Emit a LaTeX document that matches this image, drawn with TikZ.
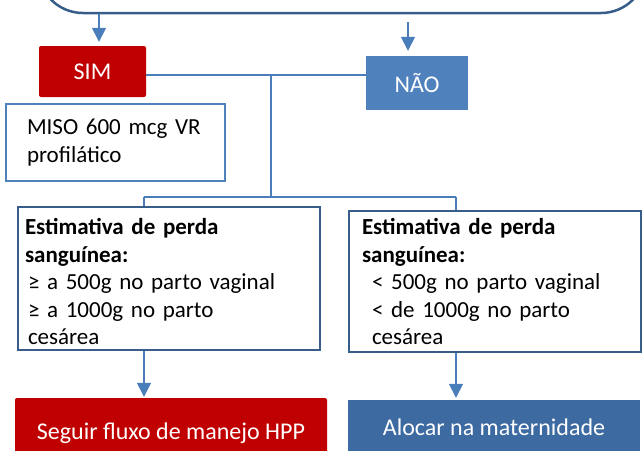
\documentclass[tikz,border=0pt]{standalone}
\usepackage{fontspec}
\setmainfont{Carlito}
\usetikzlibrary{arrows.meta}

\definecolor{simred}{HTML}{C00000}
\definecolor{naoblue}{HTML}{4F81BD}
\definecolor{darkblue}{HTML}{3D6AA1}
\definecolor{boxblue}{HTML}{385D8A}
\definecolor{lineblue}{HTML}{4A7EBB}

\begin{document}
\begin{tikzpicture}[x=1pt,y=-1pt,
    fill_node/.style={text=white,inner sep=0pt,font=\fontsize{24pt}{28pt}\selectfont},
    text_node/.style={draw,fill=white,inner sep=0pt,align=left,font=\fontsize{23pt}{27.5pt}\selectfont},
    conn/.style={draw=lineblue,line width=1.5pt},
    conn_arrow/.style={conn,-{Triangle[width=14pt,length=14pt]},lineblue}]

    \useasboundingbox (0,0) rectangle (644,450);

    % question box, cut by the top of the page
    \node[draw=boxblue,line width=2.5pt,rounded corners=45pt,minimum width=608pt,minimum height=93pt] (topbox) at (342,-33.5) {};

    \node[fill_node,fill=simred,rounded corners=2pt,minimum width=107pt,minimum height=51pt] (sim) at (92.5,71.5) {SIM};
    \node[fill_node,fill=naoblue,minimum width=102pt,minimum height=54pt] (nao) at (417,83) {NÃO};

    \node[text_node,draw=naoblue,line width=1.5pt,minimum width=219pt,minimum height=77pt,text width=205pt] (miso) at (115.5,142.5)
        {\hspace*{14pt}MISO 600 mcg VR\\\hspace*{14pt}profilático};

    \node[text_node,draw=boxblue,line width=2.5pt,minimum width=302pt,minimum height=143pt,text width=288pt] (estsim) at (169,278.5)
        {\rule{0pt}{23pt}\textbf{Estimativa de perda}\\\textbf{sanguínea:}\\
         \hspace*{3pt}≥ a 500g no parto vaginal\\\hspace*{3pt}≥ a 1000g no parto\\\hspace*{3pt}cesárea};
    \node[text_node,draw=boxblue,line width=2.5pt,minimum width=292pt,minimum height=141pt,text width=278pt] (estnao) at (495,281.5)
        {\rule{0pt}{17pt}\hspace*{6pt}\textbf{Estimativa de perda}\\\hspace*{6pt}\textbf{sanguínea:}\\
         \hspace*{16pt}< 500g no parto vaginal\\\hspace*{16pt}< de 1000g no parto\\\hspace*{16pt}cesárea};

    \node[fill_node,fill=simred,rounded corners=2pt,minimum width=312pt,minimum height=70pt] (hpp) at (171,433) {Seguir fluxo de manejo HPP};
    \node[fill_node,fill=darkblue,minimum width=292pt,minimum height=55pt] (alocar) at (494,427.5) {Alocar na maternidade};

    \coordinate (a1) at (99,0);
    \coordinate (a2) at (408,0);
    \coordinate (j1) at (271,75);
    \coordinate (j2) at (271,197);
    \coordinate (k1) at (144,197);
    \coordinate (k2) at (456,197);

    \draw[conn_arrow] (topbox.south -| a1) -- ([yshift=4pt]sim.north -| a1);
    \draw[conn_arrow] ([yshift=-8pt]topbox.south -| a2) -- ([yshift=5pt]nao.north -| a2);
    \draw[conn] (sim.east |- j1) -- (nao.west |- j1);
    \draw[conn] (j1) -- (j2);
    \draw[conn] (k1) -- (k2);
    \draw[conn] (k1) -- (estsim.north -| k1);
    \draw[conn] (k2) -- (estnao.north -| k2);
    \draw[conn_arrow] (estsim.south -| k1) -- ([yshift=1pt]hpp.north -| k1);
    \draw[conn_arrow] (estnao.south -| k2) -- ([yshift=2pt]alocar.north -| k2);

\end{tikzpicture}
\end{document}
